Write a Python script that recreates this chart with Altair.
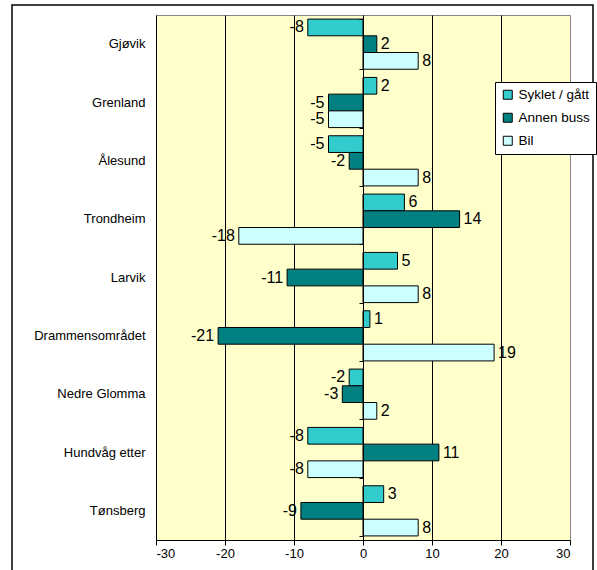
import altair as alt
import pandas as pd

# Change per area, three travel modes
areas = ["Gjøvik", "Grenland", "Ålesund", "Trondheim", "Larvik",
         "Drammensområdet", "Nedre Glomma", "Hundvåg etter", "Tønsberg"]
series = ["Syklet / gått", "Annen buss", "Bil"]
syklet = [-8, 2, -5, 6, 5, 1, -2, -8, 3]
annen_buss = [2, -5, -2, 14, -11, -21, -3, 11, -9]
bil = [8, -5, 8, -18, 8, 19, 2, -8, 8]
x_ticks = [-30, -20, -10, 0, 10, 20, 30]
colors = ["#33CCCC", "#008080", "#CCFFFF"]

rows = []
for i, a in enumerate(areas):
    for s, vals in zip(series, [syklet, annen_buss, bil]):
        rows.append({"area": a, "mode": s, "value": vals[i], "label": str(vals[i])})
df = pd.DataFrame(rows)

FONT = "Liberation Sans"
W, H = 414, 525

y_scale = alt.Scale(paddingInner=0.14, paddingOuter=0.07)
y_off = alt.YOffset("mode:N", sort=series, scale=alt.Scale(paddingInner=0, paddingOuter=0))
x_scale = alt.Scale(domain=[-30, 30], nice=False)

bars = alt.Chart(df).mark_bar(stroke="black", strokeWidth=1).encode(
    x=alt.X("value:Q", scale=x_scale,
            axis=alt.Axis(title=None, values=x_ticks, grid=True,
                          gridColor={"condition": {"test": "datum.value === 30", "value": "#888888"},
                                     "value": "black"},
                          gridOpacity=1, domainColor="black", tickColor="black",
                          tickSize=5, labelPadding=2, labelFontSize=13,
                          labelExpr="'' + datum.value",
                          labelColor="black", labelFont=FONT)),
    y=alt.Y("area:N", sort=areas, scale=y_scale,
            axis=alt.Axis(title=None, ticks=False, domain=False, labelPadding=11,
                          labelFontSize=13, labelColor="black", labelFont=FONT)),
    yOffset=y_off,
    color=alt.Color("mode:N", sort=series,
                    scale=alt.Scale(domain=series, range=colors),
                    legend=alt.Legend(title=None, orient="none", legendX=339, legendY=67,
                                      fillColor="white", strokeColor="black", padding=6,
                                      symbolType="square", symbolSize=81,
                                      symbolStrokeColor="black", symbolStrokeWidth=1,
                                      labelFontSize=13.5, labelFont=FONT, labelColor="black",
                                      rowPadding=8, labelOffset=4)),
)

# Category axis crossing at zero with ticks between the areas
zero_axis = alt.Chart(df).mark_bar(opacity=0).encode(
    x=alt.X("value:Q", scale=x_scale),
    y=alt.Y("area:N", sort=areas, scale=y_scale,
            axis=alt.Axis(title=None, labels=False, orient="left", offset=-W / 2,
                          domainColor="black", tickColor="black", tickSize=4,
                          tickBand="extent", domainWidth=1, zindex=1)),
    yOffset=y_off,
)

pos_labels = alt.Chart(df).transform_filter("datum.value >= 0").mark_text(
    align="left", baseline="middle", dx=4, fontSize=16, font=FONT, color="black"
).encode(x=alt.X("value:Q", scale=x_scale),
         y=alt.Y("area:N", sort=areas, scale=y_scale, axis=None),
         yOffset=y_off, text="label:N")

neg_labels = alt.Chart(df).transform_filter("datum.value < 0").mark_text(
    align="right", baseline="middle", dx=-4, fontSize=16, font=FONT, color="black"
).encode(x=alt.X("value:Q", scale=x_scale),
         y=alt.Y("area:N", sort=areas, scale=y_scale, axis=None),
         yOffset=y_off, text="label:N")

# Outer frame around the whole figure
frame = alt.Chart(pd.DataFrame({"f": [0]})).mark_rect(
    fill=None, stroke="black", strokeWidth=1.5
).encode(x=alt.value(12 - 156), x2=alt.value(593 - 156),
         y=alt.value(5 - 15), y2=alt.value(600))

chart = alt.layer(bars, zero_axis, pos_labels, neg_labels, frame).resolve_axis(
    y="independent"
).properties(
    width=W, height=H,
    padding={"left": 156, "top": 15, "right": 27, "bottom": 30},
    autosize=alt.AutoSizeParams(type="none"),
    background="white",
).configure_view(
    fill="#FFFFCC", stroke="#888888", strokeWidth=1
)

chart.save("out.html", embed_options={"renderer": "svg", "actions": False})
